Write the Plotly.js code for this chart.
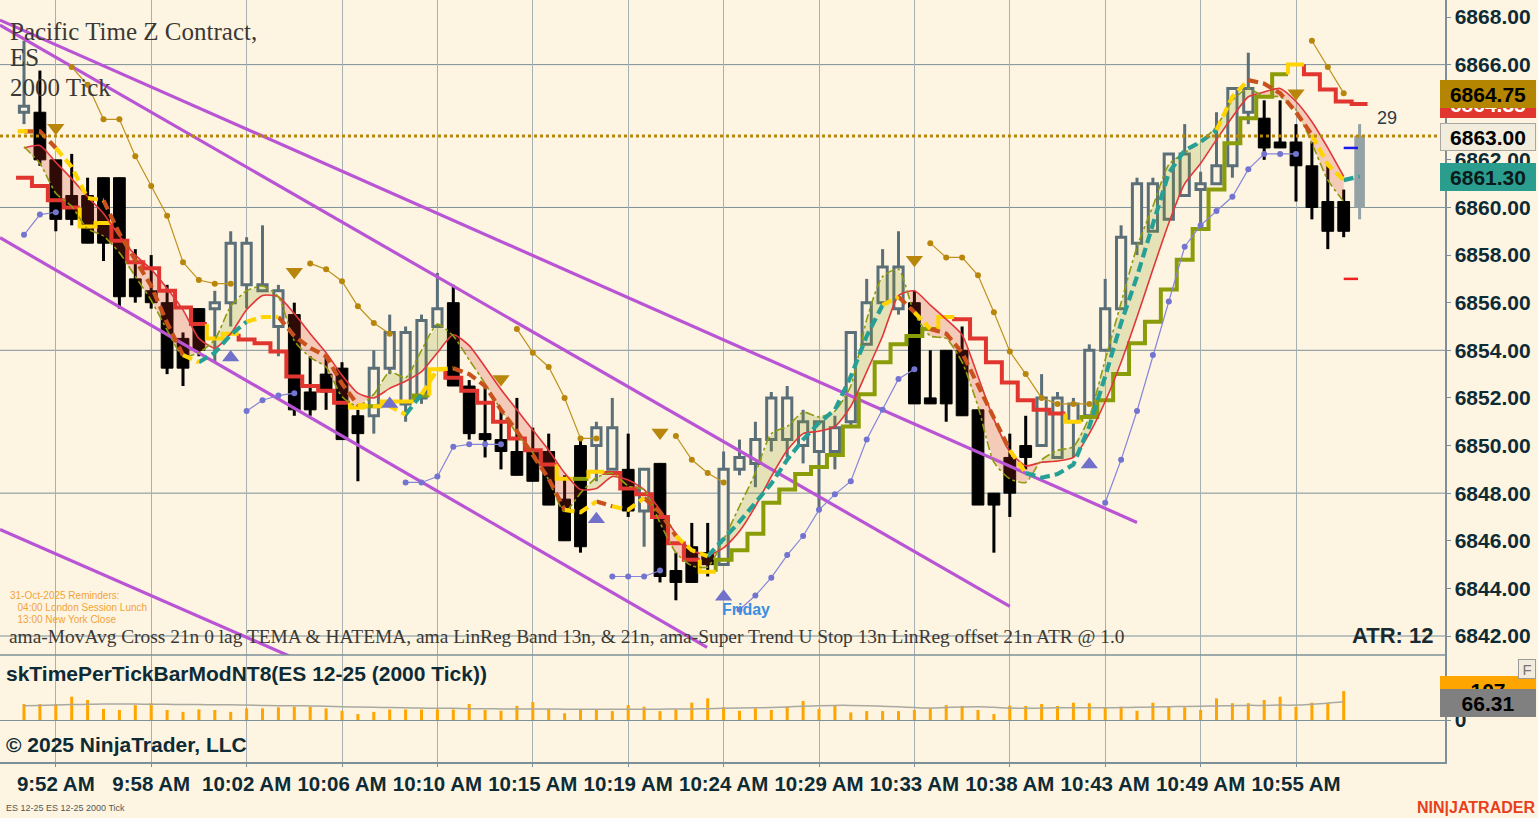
<!DOCTYPE html>
<html><head><meta charset="utf-8">
<script src="https://cdn.plot.ly/plotly-3.0.1.min.js"></script>
<style>html,body{margin:0;padding:0;background:#fdf5e2;overflow:hidden}#chart{width:1538px;height:818px}</style>
</head><body><div id="chart"></div>
<script>
// ---------------- DATA ----------------
const opens  = [6864.0,6864.0,6862.0,6860.5,6860.5,6861.25,6861.25,6857.0,6856.5,6856.0,6854.5,6855.75,6855.75,6856.0,6856.75,6856.5,6855.0,6855.5,6852.25,6853.0,6853.25,6851.25,6851.25,6853.25,6851.75,6852.0,6855.0,6856.0,6852.5,6850.5,6850.25,6849.75,6849.75,6849.75,6847.75,6850.0,6850.0,6849.0,6849.0,6847.25,6849.25,6844.75,6845.75,6845.5,6845.0,6849.0,6849.25,6850.25,6850.25,6850.0,6849.75,6849.75,6851.0,6854.25,6856.0,6855.75,6856.0,6852.0,6854.0,6854.0,6851.5,6848.0,6849.5,6850.0,6850.0,6849.5,6851.0,6851.25,6854.0,6855.75,6858.5,6859.0,6859.5,6860.5,6860.75,6861.0,6861.75,6864.0,6863.75,6862.75,6862.75,6861.75,6860.25,6860.25];
const highs  = [6867.0,6865.75,6862.0,6862.25,6861.25,6861.25,6861.25,6858.25,6858.0,6856.75,6854.75,6855.75,6856.5,6859.0,6858.75,6859.25,6856.75,6856.0,6853.75,6853.75,6853.5,6851.5,6854.0,6855.5,6855.0,6855.5,6857.25,6856.75,6852.75,6852.5,6851.5,6852.0,6850.75,6850.5,6848.75,6850.25,6851.0,6852.0,6850.5,6849.0,6849.25,6845.5,6846.75,6846.75,6849.75,6850.25,6851.0,6852.25,6852.5,6851.5,6851.0,6851.25,6854.75,6857.0,6858.25,6859.0,6856.5,6854.0,6854.0,6855.0,6851.5,6848.0,6850.5,6851.25,6853.0,6852.25,6852.0,6854.25,6857.0,6859.25,6861.25,6861.25,6862.25,6863.5,6861.5,6864.0,6865.0,6866.5,6864.5,6864.5,6863.5,6862.75,6861.75,6860.75];
const lows   = [6863.5,6861.75,6859.0,6859.25,6858.5,6857.75,6855.75,6856.0,6855.75,6853.0,6852.5,6853.75,6853.5,6855.0,6855.75,6856.5,6853.75,6851.25,6851.25,6851.5,6850.25,6848.5,6850.5,6853.0,6851.0,6851.75,6855.0,6852.5,6850.25,6849.5,6849.0,6848.75,6848.5,6847.5,6846.0,6845.5,6848.5,6849.0,6847.0,6845.75,6844.25,6843.5,6844.25,6844.5,6845.0,6848.75,6848.25,6849.75,6849.5,6849.25,6847.25,6849.0,6850.75,6854.25,6856.0,6855.5,6851.75,6851.75,6851.0,6851.25,6847.5,6845.5,6847.0,6849.0,6850.0,6849.5,6849.5,6851.25,6854.0,6855.75,6858.0,6859.0,6859.5,6860.5,6859.25,6861.0,6861.25,6863.5,6862.0,6862.5,6860.25,6859.5,6858.25,6858.75];
const closes = [6864.25,6862.0,6859.5,6859.5,6858.5,6858.5,6856.25,6856.25,6856.0,6853.25,6853.25,6854.0,6856.0,6858.5,6858.5,6856.75,6856.5,6851.5,6851.5,6852.25,6850.25,6850.5,6853.25,6854.75,6854.75,6855.25,6855.75,6852.5,6850.5,6850.25,6849.75,6848.75,6848.5,6847.5,6846.0,6845.75,6850.75,6850.75,6847.25,6849.0,6844.5,6844.25,6844.25,6845.0,6849.0,6849.5,6850.25,6852.0,6852.0,6851.0,6851.0,6850.75,6854.75,6856.0,6857.5,6857.5,6851.75,6851.75,6851.75,6851.25,6847.5,6847.5,6848.0,6849.5,6852.0,6852.0,6851.75,6854.0,6855.75,6858.75,6861.0,6861.0,6862.25,6862.25,6861.0,6861.75,6865.0,6865.0,6862.5,6862.5,6861.75,6860.0,6859.0,6859.0];
// running (projected) bar
const liveBar = {open:6860.0, high:6863.5, low:6859.5, close:6863.0};
const currentPrice = 6863.0;

// Super Trend stop (step line) and its colour state (r=down, o=up, y=neutral)
const stopVals = [6861.25,6860.9,6860.3,6860.0,6859.2,6859.35,6858.6,6857.7,6857.45,6856.5,6855.8,6855.1,6854.5,6854.7,6854.45,6854.3,6853.95,6852.9,6852.5,6852.3,6851.8,6851.6,6851.65,6851.85,6851.85,6852.1,6853.2,6852.85,6852.3,6851.8,6851.0,6850.3,6849.8,6849.2,6848.6,6848.6,6848.9,6848.85,6848.2,6847.95,6847.0,6845.9,6845.2,6844.7,6845.2,6845.6,6846.3,6847.6,6848.15,6848.8,6849.1,6849.6,6850.8,6852.15,6853.5,6854.25,6854.6,6854.9,6855.4,6855.3,6854.5,6853.5,6852.65,6851.9,6851.5,6851.35,6851.0,6851.2,6851.9,6853.0,6854.3,6855.2,6856.55,6857.8,6859.1,6860.75,6862.7,6863.75,6864.65,6865.6,6866.0,6865.6,6864.95,6864.45,6864.35];
const stopState = ['r','r','r','r','y','y','r','r','r','r','r','r','y','y','r','r','r','r','r','r','r','y','o','y','y','o','y','r','r','r','r','r','r','r','y','o','y','r','r','r','r','r','r','y','o','o','o','o','o','o','o','o','o','o','o','o','o','o','y','r','r','r','r','r','r','r','y','o','o','o','o','o','o','o','o','o','o','o','o','o','y','r','r','r','r'];

// TEMA (dashed) and its colour state (b=falling, t=rising, y=turning)
const temaVals = [6863.2,6863.2,6862.5,6861.7,6860.4,6860.3,6858.9,6857.8,6856.7,6855.15,6853.8,6853.5,6853.9,6854.65,6855.2,6855.4,6855.4,6854.6,6854.1,6853.75,6852.6,6851.7,6851.65,6851.65,6851.3,6852.15,6853.2,6853.25,6853.0,6852.5,6851.5,6850.6,6849.6,6848.6,6847.3,6847.2,6847.65,6847.45,6847.3,6847.8,6847.2,6846.2,6845.6,6845.35,6846.05,6846.8,6847.6,6848.4,6849.4,6850.25,6850.95,6851.5,6852.9,6854.6,6855.9,6856.25,6855.6,6854.9,6854.7,6853.9,6852.5,6851.1,6849.8,6848.85,6848.65,6848.8,6849.2,6850.8,6852.9,6855.15,6857.1,6859.3,6861.45,6862.4,6862.75,6863.25,6864.65,6865.35,6865.2,6864.8,6864.0,6863.05,6861.8,6861.15,6861.3];
const temaState = ['y','b','b','y','y','y','b','b','b','b','b','y','t','t','t','y','y','b','b','b','b','b','y','y','y','t','y','y','b','b','b','b','b','b','b','y','y','b','y','y','b','b','y','y','t','t','t','t','t','t','t','t','t','t','t','y','b','y','b','b','b','b','b','y','t','t','t','t','t','t','t','t','t','t','t','t','y','y','b','b','b','b','y','y','t'];

// LinReg band: red line and olive line
const bandRed   = [6862.5,6862.6,6861.9,6861.2,6860.45,6859.75,6858.8,6858.0,6857.4,6856.6,6855.7,6854.5,6854.1,6854.7,6855.7,6856.3,6856.25,6855.55,6854.7,6853.9,6852.95,6852.2,6852.0,6852.4,6852.7,6853.1,6853.9,6854.65,6854.2,6853.3,6852.35,6851.5,6850.65,6849.8,6848.85,6848.15,6848.2,6848.7,6848.55,6848.15,6847.3,6846.3,6845.6,6845.4,6845.7,6846.4,6847.45,6848.7,6849.8,6850.5,6850.6,6850.8,6851.65,6853.1,6854.6,6856.3,6856.5,6855.9,6855.3,6854.65,6852.9,6851.1,6849.75,6849.15,6849.3,6849.35,6849.5,6850.5,6851.85,6853.5,6855.4,6857.4,6859.35,6861.0,6861.85,6862.85,6863.8,6864.65,6864.85,6865.0,6864.45,6863.6,6862.5,6861.3];
const bandOlive = [6862.55,6861.85,6860.6,6860.05,6859.1,6858.8,6858.1,6857.1,6856.1,6854.85,6853.75,6853.9,6854.45,6855.85,6856.5,6856.7,6856.25,6854.4,6853.7,6853.3,6852.05,6851.65,6852.15,6853.1,6852.85,6854.0,6855.1,6854.6,6853.6,6852.6,6851.5,6850.5,6849.7,6848.55,6847.2,6848.0,6848.65,6848.85,6848.3,6848.15,6846.75,6845.5,6844.95,6844.9,6846.05,6847.45,6848.85,6850.5,6850.8,6851.4,6851.2,6851.45,6852.5,6855.3,6857.1,6857.4,6855.55,6854.6,6854.5,6853.5,6851.65,6849.3,6848.6,6848.45,6849.4,6849.8,6849.95,6851.2,6853.6,6856.0,6858.35,6860.05,6861.8,6862.3,6862.75,6863.4,6864.5,6865.0,6864.65,6864.65,6864.1,6862.7,6861.15,6860.25];

// Swing trail lines (null = not drawn)
const _ = null;
const goldTrail = [_,_,_,6865.9,6865.15,6863.7,6863.7,6862.15,6860.9,6859.65,6857.7,6856.95,6856.8,6856.8,_,_,_,_,6857.65,6857.4,6856.9,6855.85,6855.15,6854.7,_,_,_,_,_,_,_,6854.9,6853.9,6853.3,6852.0,6850.3,6850.3,_,_,_,_,6850.4,6849.4,6848.85,6848.45,_,_,_,_,_,_,_,_,_,_,_,_,6858.5,6857.9,6857.9,6857.15,6855.6,6853.95,6853.0,6852.0,6851.75,6851.75,6851.75,_,_,_,_,_,_,_,_,_,_,_,_,_,6867.0,6865.9,6864.8];
const blueTrail = [6858.85,6859.7,6859.8,_,_,_,_,_,_,_,_,_,_,_,6851.45,6851.9,6852.1,6852.2,_,_,_,_,_,_,6848.45,6848.45,6848.7,6849.95,6850.05,6850.05,6850.05,_,_,_,_,_,_,6844.5,6844.5,6844.5,6844.75,_,_,_,_,6843.1,6843.7,6844.45,6845.4,6846.2,6847.3,6847.95,6848.5,6850.25,6851.5,6852.8,6853.2,_,_,_,_,_,_,_,_,_,_,_,6847.6,6849.4,6851.45,6853.8,6856.05,6858.35,6859.25,6859.85,6860.45,6861.6,6862.25,6862.25,6862.25,_,_,_];

// Signal triangles
const sellIdx = [2,17,30,40,56,80];
const sellPx  = [6863.35,6857.3,6852.8,6850.55,6857.8,6864.8];
const buyIdx  = [13,23,36,44,67];
const buyPx   = [6853.7,6851.75,6846.9,6843.65,6849.2];

// target marks on running bar
const targetUp = 6862.5, targetDn = 6857.0;

// Purple trend lines: [x0, y0, x1, y1] in bar index / price
const trendA = [-1.51,6867.87,70.0,6846.77];
const trendB = [-1.51,6867.66,62.0,6843.24];
const trendC = [-1.51,6858.73,42.96,6841.52];
const trendD = [-1.51,6846.47,18.6,6840.6];

// Lower panel: time per tick bar values and average
const tptValues = [59,59,59,86,74,41,37,55,62,37,30,39,37,30,43,43,47,49,49,43,34,22,30,39,39,39,39,39,59,37,34,52,66,41,25,39,39,33,55,49,33,39,64,80,47,34,43,37,49,70,41,55,28,33,33,33,37,43,55,52,37,22,53,52,59,52,64,62,45,49,34,64,49,47,37,80,62,62,74,86,49,64,64,107];
const tptAvg    = [53,54,55,57,58,59,59,59,58,58,57,57,56,56,55,54,53,53,52,51,49,48,47,46,45,44,43,43,42,42,41,41,41,41,40,40,40,40,40,40,40,41,41,42,43,44,45,46,48,51,53,54,54,53,51,49,46,44,46,48,49,47,44,43,44,45,45,45,45,46,47,48,49,50,51,52,53,54,54,55,55,58,62,67];

// Axis ticks
const timeTickIdx = [2,8,14,20,26,32,38,44,50,56,62,68,74,80];
const timeLabels  = ['9:52 AM','9:58 AM','10:02 AM','10:06 AM','10:10 AM','10:15 AM','10:19 AM','10:24 AM','10:29 AM','10:33 AM','10:38 AM','10:43 AM','10:49 AM','10:55 AM'];
const priceTicks  = [6842,6844,6846,6848,6850,6852,6854,6856,6858,6860,6862,6864,6866,6868];
const hiddenTicks = [6864]; // covered by the price tags
const priceGrid   = [6842,6848,6854,6860,6866];

// ---------------- BUILD ----------------
const W=1538, H=818;
const SANS='Liberation Sans, Arial, sans-serif';
const SERIF='Liberation Serif, Times New Roman, serif';
const INK='#0e2b35';
const n = opens.length;
const traces = [];

// candles
const up = {x:[],lo:[],hi:[],bb:[],bh:[]}, dn = {x:[],lo:[],hi:[],bb:[],bh:[]};
for (let i=0;i<n;i++){
  const g = closes[i]>=opens[i]?up:dn;
  g.x.push(i); g.lo.push(lows[i]); g.hi.push(highs[i]-lows[i]);
  const b=Math.min(opens[i],closes[i]); g.bb.push(b); g.bh.push(Math.max(Math.abs(closes[i]-opens[i]),0.12));
}
const UPC='#5b6f79';
traces.push({type:'bar',x:up.x,base:up.lo,y:up.hi,width:0.19,marker:{color:UPC,line:{width:0}},xaxis:'x',yaxis:'y'});
traces.push({type:'bar',x:dn.x,base:dn.lo,y:dn.hi,width:0.19,marker:{color:'#000',line:{width:0}},xaxis:'x',yaxis:'y'});
traces.push({type:'bar',x:up.x,base:up.bb,y:up.bh,width:0.58,marker:{color:'#fdf5e2',line:{color:UPC,width:3}},xaxis:'x',yaxis:'y'});
traces.push({type:'bar',x:dn.x,base:dn.bb,y:dn.bh,width:0.74,marker:{color:'#000',line:{color:'#000',width:1}},xaxis:'x',yaxis:'y'});
// live bar
traces.push({type:'bar',x:[n],base:[liveBar.low],y:[liveBar.high-liveBar.low],width:0.19,marker:{color:'#95a2a5'},xaxis:'x',yaxis:'y'});
traces.push({type:'bar',x:[n],base:[Math.min(liveBar.open,liveBar.close)],y:[Math.abs(liveBar.close-liveBar.open)],width:0.6,marker:{color:'#95a2a5',line:{color:'#95a2a5',width:1}},xaxis:'x',yaxis:'y'});

// band fills with crossing points
function bandPts(){
  const xs=[],r=[],o=[];
  for(let i=0;i<bandRed.length;i++){
    xs.push(i); r.push(bandRed[i]); o.push(bandOlive[i]);
    if(i<bandRed.length-1){
      const d0=bandRed[i]-bandOlive[i], d1=bandRed[i+1]-bandOlive[i+1];
      if(d0*d1<0){const t=d0/(d0-d1); const yv=bandRed[i]+t*(bandRed[i+1]-bandRed[i]); xs.push(i+t); r.push(yv); o.push(yv);}
    }
  }
  return {xs,r,o};
}
const bp = bandPts();
traces.push({type:'scatter',mode:'lines',x:bp.xs,y:bp.o,line:{width:0},xaxis:'x',yaxis:'y'});
traces.push({type:'scatter',mode:'lines',x:bp.xs,y:bp.r.map((v,k)=>Math.max(v,bp.o[k])),line:{width:0},fill:'tonexty',fillcolor:'rgba(214,48,38,0.22)',xaxis:'x',yaxis:'y'});
traces.push({type:'scatter',mode:'lines',x:bp.xs,y:bp.r,line:{width:0},xaxis:'x',yaxis:'y'});
traces.push({type:'scatter',mode:'lines',x:bp.xs,y:bp.o.map((v,k)=>Math.max(v,bp.r[k])),line:{width:0},fill:'tonexty',fillcolor:'rgba(140,150,20,0.2)',xaxis:'x',yaxis:'y'});

// purple trend lines
[trendA,trendB,trendC,trendD].forEach(t=>traces.push({type:'scatter',mode:'lines',x:[t[0],t[2]],y:[t[1],t[3]],line:{color:'#b955d4',width:3.2},xaxis:'x',yaxis:'y',cliponaxis:true}));

// stop step line
const stopColors={r:'#e0362f',o:'#8a9c08',y:'#ffd400'};
function stepByState(vals,state,cmap,width){
  const groups={};
  Object.keys(cmap).forEach(k=>groups[k]={x:[],y:[]});
  let i=0;
  while(i<vals.length){
    let j=i; while(j+1<vals.length && state[j+1]===state[i]) j++;
    const g=groups[state[i]];
    if(g.x.length){g.x.push(null);g.y.push(null);}
    if(i>0){g.x.push(i-0.5);g.y.push(vals[i-1]);}
    for(let k=i;k<=j;k++){g.x.push(k-0.5,k+0.5);g.y.push(vals[k],vals[k]);}
    i=j+1;
  }
  return Object.keys(cmap).map(k=>({type:'scatter',mode:'lines',x:groups[k].x,y:groups[k].y,line:{color:cmap[k],width:width},connectgaps:false,xaxis:'x',yaxis:'y'}));
}
stepByState(stopVals,stopState,stopColors,4).forEach(t=>traces.push(t));

// band lines
traces.push({type:'scatter',mode:'lines',x:bandRed.map((_,i)=>i),y:bandRed,line:{color:'#e2363a',width:1.6,shape:'spline',smoothing:0.6},xaxis:'x',yaxis:'y'});
traces.push({type:'scatter',mode:'lines',x:bandOlive.map((_,i)=>i),y:bandOlive,line:{color:'#8e9a10',width:1.6,dash:'dashdot',shape:'spline',smoothing:0.6},xaxis:'x',yaxis:'y'});

// TEMA dashed line
const temaColors={b:'#c9521c',t:'#26a096',y:'#ffd400'};
function segByState(vals,state,cmap,width,dash){
  const groups={};
  Object.keys(cmap).forEach(k=>groups[k]={x:[],y:[]});
  let i=0;
  while(i<vals.length){
    let j=i; while(j+1<vals.length && state[j+1]===state[i]) j++;
    const g=groups[state[i]];
    if(g.x.length){g.x.push(null);g.y.push(null);}
    for(let k=Math.max(i-1,0);k<=j;k++){g.x.push(k);g.y.push(vals[k]);}
    if(i===j && i===0){g.x.push(i+0.4);g.y.push(vals[i]);g.x.unshift(i-0.4);g.y.unshift(vals[i]);}
    i=j+1;
  }
  return Object.keys(cmap).map(k=>({type:'scatter',mode:'lines',x:groups[k].x,y:groups[k].y,line:{color:cmap[k],width:width,dash:dash},connectgaps:false,xaxis:'x',yaxis:'y'}));
}
segByState(temaVals,temaState,temaColors,4.2,'10px,5px').forEach(t=>traces.push(t));

// trails
traces.push({type:'scatter',mode:'lines+markers',x:goldTrail.map((_,i)=>i),y:goldTrail,line:{color:'#c0921e',width:1.2},marker:{color:'#b8860b',size:6},connectgaps:false,xaxis:'x',yaxis:'y'});
traces.push({type:'scatter',mode:'lines+markers',x:blueTrail.map((_,i)=>i),y:blueTrail,line:{color:'#8585dc',width:1.2},marker:{color:'#7373d0',size:6},connectgaps:false,xaxis:'x',yaxis:'y'});

// triangles
traces.push({type:'scatter',mode:'markers',x:sellIdx,y:sellPx,marker:{symbol:'triangle-down',size:15,color:'#b8860b'},xaxis:'x',yaxis:'y'});
traces.push({type:'scatter',mode:'markers',x:buyIdx,y:buyPx,marker:{symbol:'triangle-up',size:15,color:'#7171cc'},xaxis:'x',yaxis:'y'});

// target marks
traces.push({type:'scatter',mode:'lines',x:[n-1,n-0.1],y:[targetUp,targetUp],line:{color:'#1a1aee',width:2.5},xaxis:'x',yaxis:'y'});
traces.push({type:'scatter',mode:'lines',x:[n-1,n-0.1],y:[targetDn,targetDn],line:{color:'#ee2020',width:2.5},xaxis:'x',yaxis:'y'});

// lower panel
traces.push({type:'bar',x:tptValues.map((_,i)=>i),y:tptValues,width:0.19,marker:{color:'#ffa500'},xaxis:'x',yaxis:'y2'});
traces.push({type:'scatter',mode:'lines',x:tptAvg.map((_,i)=>i),y:tptAvg,line:{color:'#a9a9a0',width:1.5,shape:'spline'},xaxis:'x',yaxis:'y2'});

// ---------------- LAYOUT ----------------
const px=x=>x/W, py=y=>1-y/H;
function txt(text,x,y,font,extra){return Object.assign({text,xref:'paper',yref:'paper',x:px(x),y:py(y),showarrow:false,xanchor:'left',yanchor:'middle',font},extra||{});}
function tag(text,y,bg,fg,border){return {text:'<b>'+text+'</b>',xref:'paper',yref:'paper',x:px(1440),y:py(y),xanchor:'left',yanchor:'middle',showarrow:false,bgcolor:bg,bordercolor:border||bg,borderwidth:1,borderpad:2,width:90,height:22,align:'center',font:{family:SANS,size:21,color:fg}};}
const serifFont={family:SERIF,size:25,color:'#3a3835'};
const ann=[
  txt('Pacific Time Z Contract,',8,31,serifFont),
  txt('ES',8,58,serifFont),
  txt('2000 Tick',8,87,serifFont),
  txt('31-Oct-2025 Reminders:',8,595,{family:SANS,size:10,color:'#f2a33a'}),
  txt('  04:00 London Session Lunch',10,607,{family:SANS,size:10,color:'#f2a33a'}),
  txt('  13:00 New York Close',10,619,{family:SANS,size:10,color:'#f2a33a'}),
  txt('ama-MovAvg Cross 21n 0 lag TEMA &amp; HATEMA, ama LinReg Band 13n, &amp; 21n, ama-Super Trend U Stop 13n LinReg offset 21n ATR @ 1.0',7,636,{family:SERIF,size:19.4,color:'#3a3835'}),
  txt('<b>Friday</b>',746,609,{family:SANS,size:16,color:'#3b8ee0'},{xanchor:'center'}),
  txt('<b>ATR: 12</b>',1436,635,{family:SANS,size:22,color:'#1a2a30'},{xanchor:'right'}),
  txt('29',1387,118,{family:SANS,size:18,color:'#2a3a45'},{xanchor:'center'}),
  txt('<b>skTimePerTickBarModNT8(ES 12-25 (2000 Tick))</b>',4,673,{family:SANS,size:21,color:INK}),
  txt('<b>© 2025 NinjaTrader, LLC</b>',4,744,{family:SANS,size:21,color:INK}),
  txt('ES 12-25 ES 12-25 2000 Tick',4,808,{family:SANS,size:9,color:'#555'}),
  txt('<b>NIN|JATRADER</b>',1537,807,{family:SANS,size:16,color:'#e8401c'},{xanchor:'right'}),
  tag('6864.35',104,'#e0362f','#ffffff'),
  tag('6864.75',94,'#b38500','#000000'),
  tag('6863.00',137,'#f2ecdc','#000000','#a8a8a0'),
  tag('6861.30',177,'#2a9d8f','#0a1a1a'),
  tag('107',690,'#ffa500','#000000'),
  tag('66.31',703,'#808080','#000000'),
  {text:'F',xref:'paper',yref:'paper',x:px(1527),y:py(669),showarrow:false,xanchor:'center',yanchor:'middle',bgcolor:'#f2ecdc',bordercolor:'#9a9a9a',borderwidth:1,borderpad:1,width:14,height:16,font:{family:SANS,size:15,color:'#777'}}
];
const shapes=[];
priceGrid.forEach(p=>shapes.push({type:'line',xref:'paper',yref:'y',x0:0,x1:1445/W,y0:p,y1:p,line:{color:'#7d8f99',width:1},layer:'below'}));
shapes.push({type:'line',xref:'paper',yref:'y',x0:0,x1:1445/W,y0:currentPrice,y1:currentPrice,line:{color:'#b8860b',width:3,dash:'dot'},layer:'above'});
shapes.push({type:'line',xref:'paper',yref:'paper',x0:0,x1:1445/W,y0:py(655),y1:py(655),line:{color:'#7d8f99',width:1.5}});

const yTop=6868+17/23.8077, yBot=6868-(655-17)/23.8077;
const layout={
  width:W,height:H,margin:{l:0,r:0,t:0,b:0},
  paper_bgcolor:'#fdf5e2',plot_bgcolor:'#fdf5e2',
  showlegend:false,barmode:'overlay',hovermode:false,
  xaxis:{domain:[0,1445/W],range:[-24/15.9,(1445-24)/15.9],anchor:'y2',tickmode:'array',tickvals:timeTickIdx,ticktext:timeLabels,
    showgrid:true,gridcolor:'#a7b1b4',gridwidth:1,zeroline:false,ticks:'outside',ticklen:3,tickcolor:'#7d8f99',
    tickfont:{family:SANS,size:20.5,color:INK,weight:'bold'},showline:true,linecolor:'#7d8f99',linewidth:1.5,fixedrange:true},
  yaxis:{domain:[163/H,1],range:[yBot,yTop],side:'right',anchor:'x',tickmode:'array',tickvals:priceTicks,
    ticktext:priceTicks.map(v=>hiddenTicks.includes(v)?'':v.toFixed(2)),
    showgrid:false,zeroline:false,ticks:'outside',ticklen:4,tickcolor:'#7d8f99',tickfont:{family:SANS,size:21,color:INK,weight:'bold'},
    showline:true,linecolor:'#7d8f99',linewidth:1.5,fixedrange:true},
  yaxis2:{domain:[56/H,163/H],range:[-155,240],side:'right',anchor:'x',tickmode:'array',tickvals:[0],ticktext:['0'],
    showgrid:true,gridcolor:'#7d8f99',zeroline:false,ticks:'outside',ticklen:4,tickcolor:'#7d8f99',
    tickfont:{family:SANS,size:21,color:INK,weight:'bold'},showline:true,linecolor:'#7d8f99',linewidth:1.5,fixedrange:true},
  annotations:ann,shapes:shapes
};
Plotly.newPlot('chart',traces,layout,{staticPlot:true,displayModeBar:false});
</script></body></html>
